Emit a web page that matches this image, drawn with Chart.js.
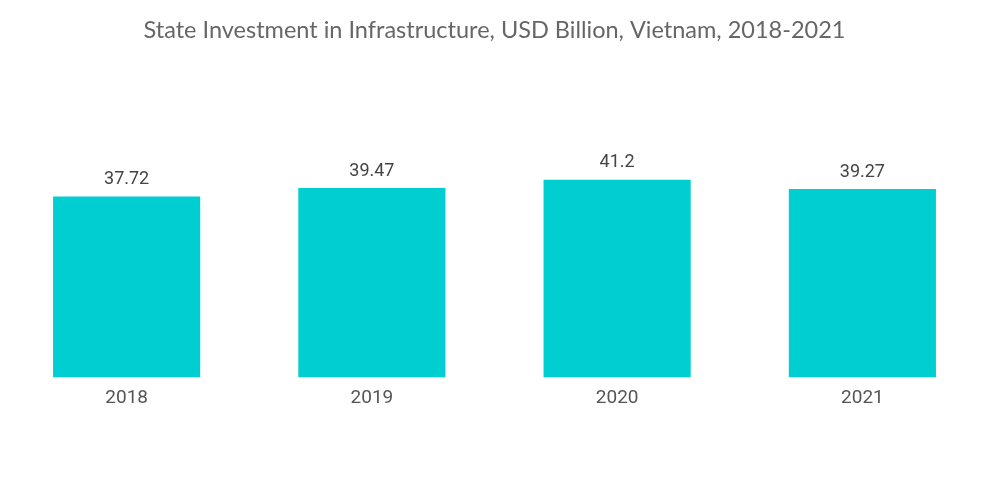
<!DOCTYPE html>
<html>
<head>
<meta charset="utf-8">
<script src="https://cdn.jsdelivr.net/npm/chart.js@4"></script>
<style>
  html, body { margin: 0; padding: 0; background: #fff; }
  #wrap { width: 1000px; height: 504px; }
</style>
</head>
<body>
<div id="wrap"><canvas id="investChart"></canvas></div>
<script>
const years = ['2018', '2019', '2020', '2021'];
const investment = [37.72, 39.47, 41.2, 39.27];

// draws the value above each bar
const barValues = {
    id: 'barValues',
    afterDatasetsDraw(chart) {
        const c = chart.ctx;
        const meta = chart.getDatasetMeta(0);
        c.save();
        c.font = '18px Roboto';
        c.fillStyle = '#444';
        c.textAlign = 'center';
        c.textBaseline = 'bottom';
        meta.data.forEach((bar, i) => {
            c.fillText(String(investment[i]), bar.x, bar.y - 8);
        });
        c.restore();
    }
};

const ctx = document.getElementById('investChart');

new Chart(ctx, {
    type: 'bar',
    data: {
        labels: years,
        datasets: [{
            data: investment,
            backgroundColor: '#00CED1',
            barPercentage: 0.6,
            categoryPercentage: 1.0,
        }]
    },
    options: {
        responsive: true,
        maintainAspectRatio: false,
        animation: false,
        layout: {
            padding: { left: 4, right: 15, top: 0, bottom: 85.6 }
        },
        plugins: {
            legend: { display: false },
            tooltip: { enabled: false },
            title: {
                display: true,
                text: 'State Investment in Infrastructure, USD Billion, Vietnam, 2018-2021',
                color: '#666',
                font: { family: 'Lato', size: 23.5, weight: 'normal' },
                padding: { top: 16, bottom: 93.3 }
            }
        },
        scales: {
            x: {
                grid: { display: false, drawTicks: false },
                border: { display: false },
                ticks: {
                    color: '#555',
                    padding: 9,
                    font: { family: 'Roboto', size: 19 }
                }
            },
            y: {
                display: false,
                min: 0,
                max: 50
            }
        }
    },
    plugins: [barValues]
});
</script>
</body>
</html>
